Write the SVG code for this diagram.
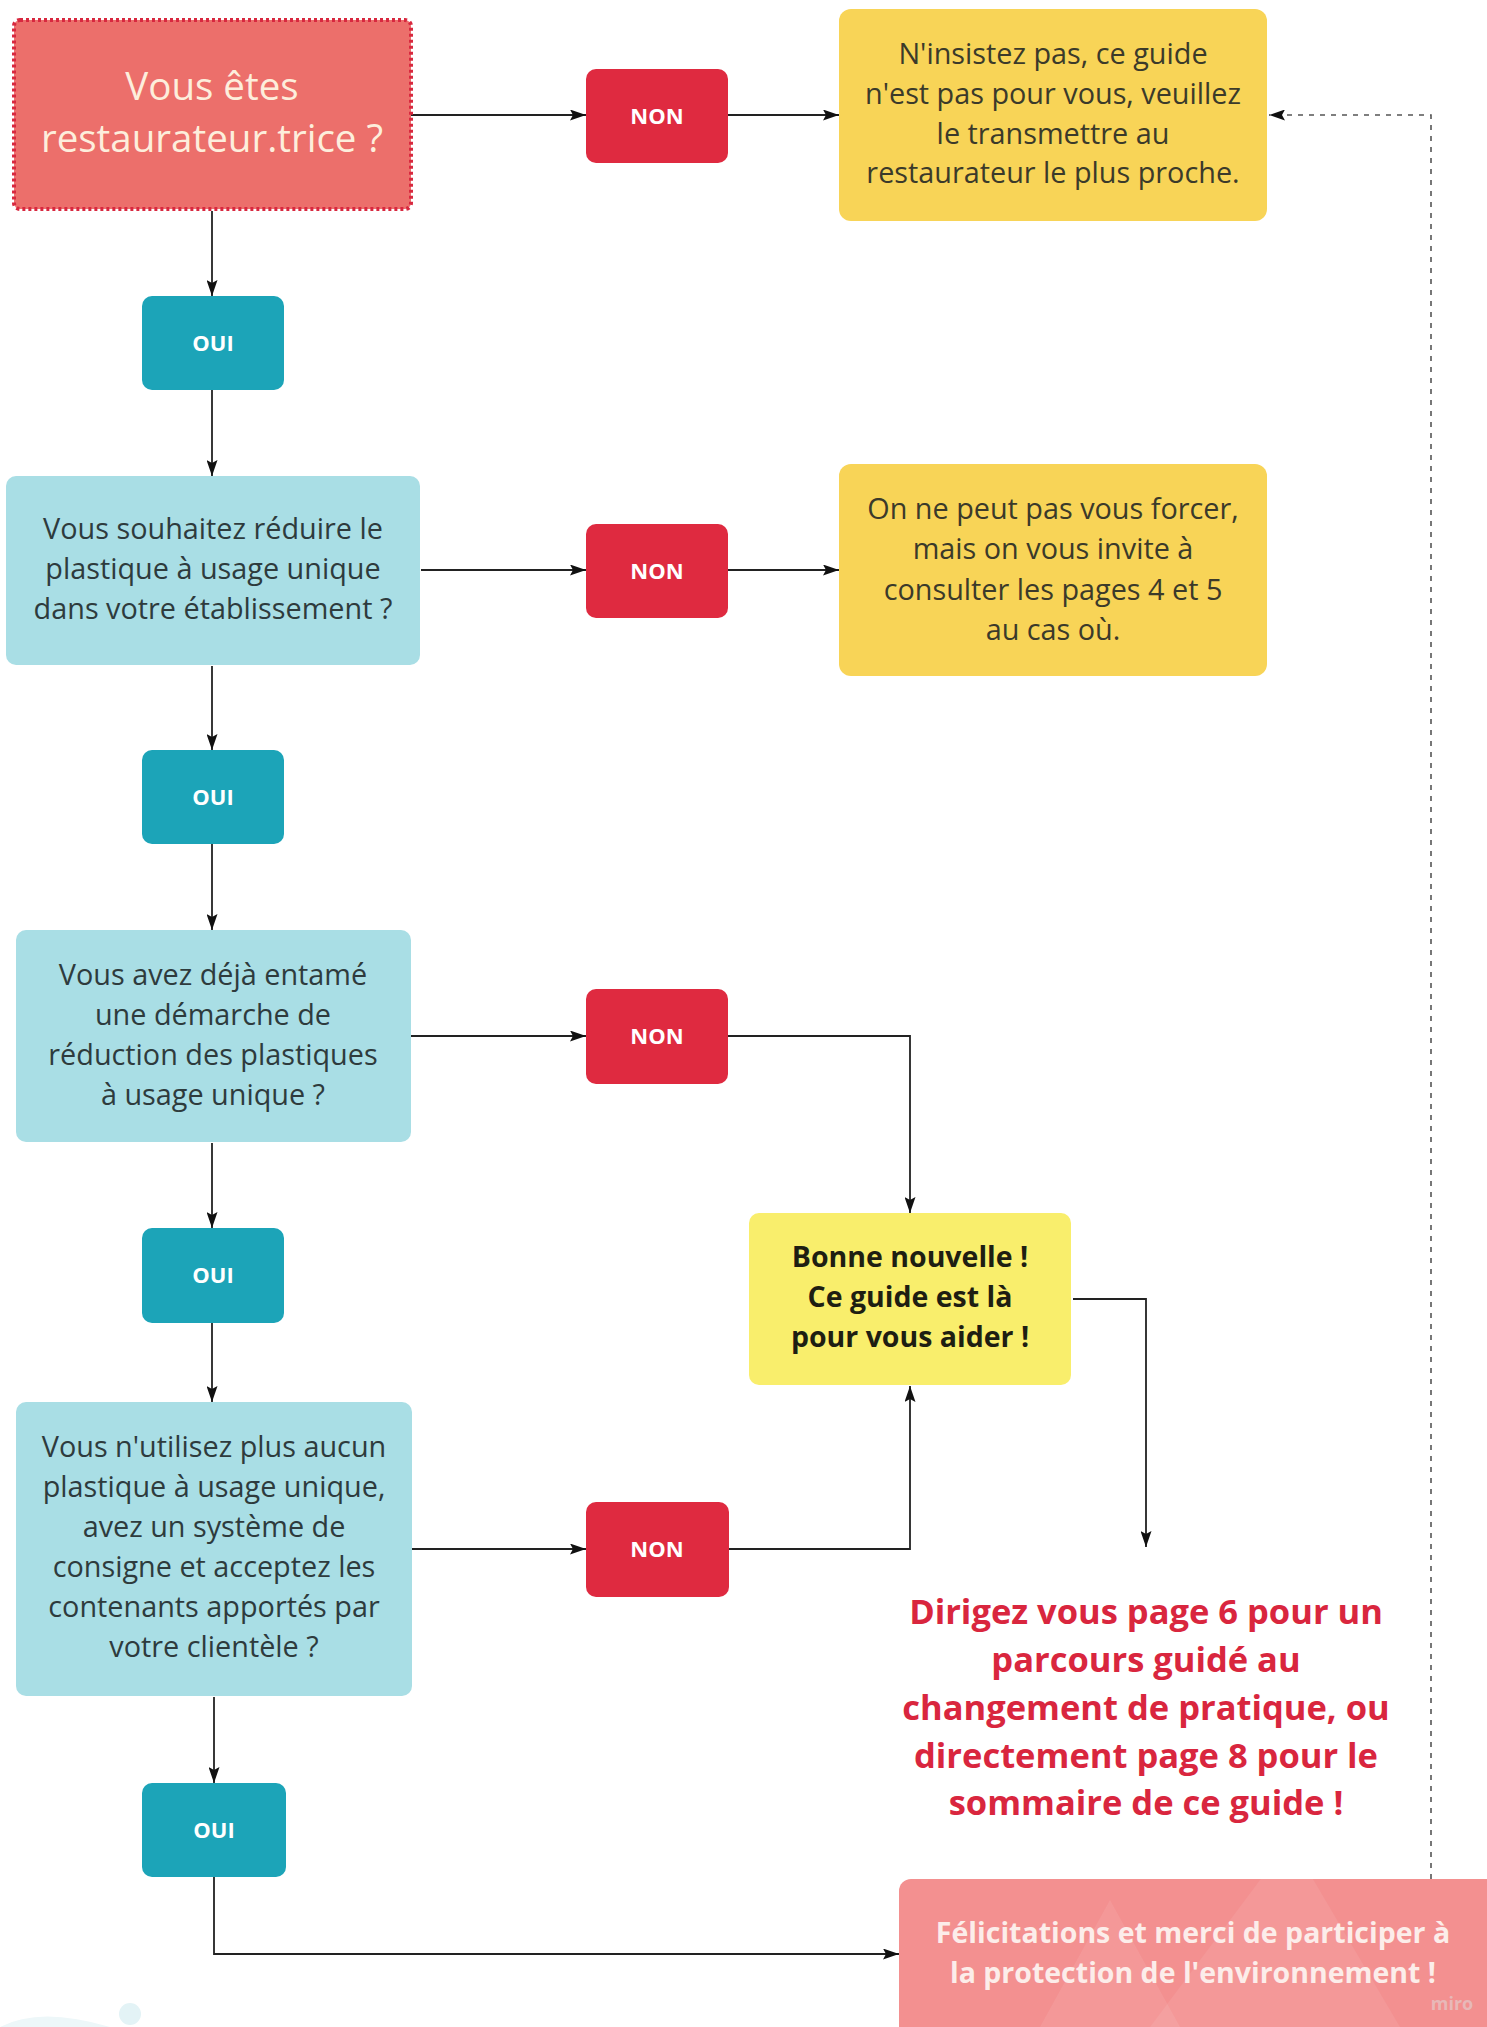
<svg xmlns="http://www.w3.org/2000/svg" width="1487" height="2027" viewBox="0 0 1487 2027">
<defs>
<marker id="ah" viewBox="0 0 16 11" refX="16" refY="5.5" markerWidth="16" markerHeight="11" markerUnits="userSpaceOnUse" orient="auto">
<path d="M0,0 L16,5.5 L0,11 L3,5.5 z" fill="#111"/>
</marker>
<style>
.conn{fill:none;stroke:#222;stroke-width:1.8}
.dash{fill:none;stroke:#555;stroke-width:1.6;stroke-dasharray:5 6}
.non rect{fill:#DF2A40}
.oui rect{fill:#1CA4B8}
.btn{font-family:"Open Sans","Noto Sans","Liberation Sans",sans-serif;font-weight:700;font-size:22px;fill:#fff;text-anchor:middle}
.q rect{fill:#A9DEE5}
.qt{font-family:"Open Sans","Noto Sans","Liberation Sans",sans-serif;font-size:28.8px;fill:#2E3B3D;text-anchor:middle}
.y rect{fill:#F8D457}
.yt{font-family:"Open Sans","Noto Sans","Liberation Sans",sans-serif;font-size:28.8px;fill:#3B3A2A;text-anchor:middle}
</style>
</defs>
<rect width="1487" height="2027" fill="#fff"/>
<circle cx="130" cy="2014" r="11" fill="#E3F3F6"/>
<path d="M0,2027 Q40,2006 110,2027" fill="#EDF7F9"/>

<g id="connectors">
<line class="conn" x1="411" y1="115" x2="586" y2="115" marker-end="url(#ah)"/>
<line class="conn" x1="728" y1="115" x2="839" y2="115" marker-end="url(#ah)"/>
<line class="conn" x1="212" y1="211" x2="212" y2="296" marker-end="url(#ah)"/>
<line class="conn" x1="212" y1="390" x2="212" y2="476" marker-end="url(#ah)"/>
<line class="conn" x1="421" y1="570" x2="586" y2="570" marker-end="url(#ah)"/>
<line class="conn" x1="728" y1="570" x2="839" y2="570" marker-end="url(#ah)"/>
<line class="conn" x1="212" y1="666" x2="212" y2="750" marker-end="url(#ah)"/>
<line class="conn" x1="212" y1="844" x2="212" y2="930" marker-end="url(#ah)"/>
<line class="conn" x1="411" y1="1036" x2="586" y2="1036" marker-end="url(#ah)"/>
<polyline class="conn" points="728,1036 910,1036 910,1213" marker-end="url(#ah)"/>
<line class="conn" x1="212" y1="1143" x2="212" y2="1228" marker-end="url(#ah)"/>
<line class="conn" x1="212" y1="1323" x2="212" y2="1402" marker-end="url(#ah)"/>
<line class="conn" x1="412" y1="1549" x2="586" y2="1549" marker-end="url(#ah)"/>
<polyline class="conn" points="729,1549 910,1549 910,1386" marker-end="url(#ah)"/>
<polyline class="conn" points="1073,1299 1146,1299 1146,1547" marker-end="url(#ah)"/>
<line class="conn" x1="214" y1="1697" x2="214" y2="1783" marker-end="url(#ah)"/>
<polyline class="conn" points="214,1877 214,1954 899,1954" marker-end="url(#ah)"/>
<polyline class="dash" points="1431,1879 1431,115 1269,115" marker-end="url(#ah)"/>
</g>

<g id="start">
<rect x="14" y="20" width="397" height="189" rx="6" fill="#EC6F6B" stroke="#D8283F" stroke-width="4" stroke-dasharray="3 3"/>
<text font-family="'Open Sans','Noto Sans','Liberation Sans',sans-serif" font-size="38.5" fill="#FDEEDC" text-anchor="middle"><tspan x="212" y="100">Vous êtes</tspan><tspan x="212" y="152">restaurateur.trice ?</tspan></text>
</g>

<g id="non1" class="non"><rect x="586" y="69" width="142" height="94" rx="10"/><text class="btn" x="657" y="124">NON</text></g>
<g id="msg1" class="y"><rect x="839" y="9" width="428" height="212" rx="12"/>
<text class="yt"><tspan x="1053" y="64">N'insistez pas, ce guide</tspan><tspan x="1053" y="104">n'est pas pour vous, veuillez</tspan><tspan x="1053" y="144">le transmettre au</tspan><tspan x="1053" y="183">restaurateur le plus proche.</tspan></text></g>

<g id="oui1" class="oui"><rect x="142" y="296" width="142" height="94" rx="10"/><text class="btn" x="213" y="351">OUI</text></g>

<g id="q2" class="q"><rect x="6" y="476" width="414" height="189" rx="10"/>
<text class="qt"><tspan x="213" y="539">Vous souhaitez réduire le</tspan><tspan x="213" y="579">plastique à usage unique</tspan><tspan x="213" y="619">dans votre établissement ?</tspan></text></g>

<g id="non2" class="non"><rect x="586" y="524" width="142" height="94" rx="10"/><text class="btn" x="657" y="579">NON</text></g>
<g id="msg2" class="y"><rect x="839" y="464" width="428" height="212" rx="12"/>
<text class="yt"><tspan x="1053" y="519">On ne peut pas vous forcer,</tspan><tspan x="1053" y="559">mais on vous invite à</tspan><tspan x="1053" y="600">consulter les pages 4 et 5</tspan><tspan x="1053" y="640">au cas où.</tspan></text></g>

<g id="oui2" class="oui"><rect x="142" y="750" width="142" height="94" rx="10"/><text class="btn" x="213" y="805">OUI</text></g>

<g id="q3" class="q"><rect x="16" y="930" width="395" height="212" rx="10"/>
<text class="qt"><tspan x="213" y="985">Vous avez déjà entamé</tspan><tspan x="213" y="1025">une démarche de</tspan><tspan x="213" y="1065">réduction des plastiques</tspan><tspan x="213" y="1105">à usage unique ?</tspan></text></g>

<g id="non3" class="non"><rect x="586" y="989" width="142" height="95" rx="10"/><text class="btn" x="657" y="1044">NON</text></g>

<g id="bonne"><rect x="749" y="1213" width="322" height="172" rx="10" fill="#F9EE6C"/>
<text font-family="'Open Sans','Noto Sans','Liberation Sans',sans-serif" font-weight="700" font-size="28.5" fill="#1E1E12" text-anchor="middle"><tspan x="910" y="1267">Bonne nouvelle !</tspan><tspan x="910" y="1307">Ce guide est là</tspan><tspan x="910" y="1347">pour vous aider !</tspan></text></g>

<g id="oui3" class="oui"><rect x="142" y="1228" width="142" height="95" rx="10"/><text class="btn" x="213" y="1283">OUI</text></g>

<g id="q4" class="q"><rect x="16" y="1402" width="396" height="294" rx="10"/>
<text class="qt"><tspan x="214" y="1457">Vous n'utilisez plus aucun</tspan><tspan x="214" y="1497">plastique à usage unique,</tspan><tspan x="214" y="1537">avez un système de</tspan><tspan x="214" y="1577">consigne et acceptez les</tspan><tspan x="214" y="1617">contenants apportés par</tspan><tspan x="214" y="1657">votre clientèle ?</tspan></text></g>

<g id="non4" class="non"><rect x="586" y="1502" width="143" height="95" rx="10"/><text class="btn" x="657" y="1557">NON</text></g>

<g id="dirigez">
<text font-family="'Open Sans','Noto Sans','Liberation Sans',sans-serif" font-weight="700" font-size="34.5" fill="#D9263E" text-anchor="middle"><tspan x="1146" y="1624">Dirigez vous page 6 pour un</tspan><tspan x="1146" y="1672">parcours guidé au</tspan><tspan x="1146" y="1720">changement de pratique, ou</tspan><tspan x="1146" y="1768">directement page 8 pour le</tspan><tspan x="1146" y="1815">sommaire de ce guide !</tspan></text></g>

<g id="oui4" class="oui"><rect x="142" y="1783" width="144" height="94" rx="10"/><text class="btn" x="214" y="1838">OUI</text></g>

<g id="felicitations">
<rect x="899" y="1879" width="600" height="170" rx="12" fill="#F39090"/>
<polygon points="1040,2027 1110,1900 1180,2027" fill="#fff" opacity="0.08"/>
<polygon points="1150,2027 1290,1840 1400,2027" fill="#fff" opacity="0.08"/>
<text font-family="'Open Sans','Noto Sans','Liberation Sans',sans-serif" font-weight="700" font-size="28.5" fill="#FCEDEA" text-anchor="middle"><tspan x="1193" y="1943">Félicitations et merci de participer à</tspan><tspan x="1193" y="1983">la protection de l'environnement !</tspan></text>
<text x="1452" y="2010" font-family="'Open Sans','Noto Sans','Liberation Sans',sans-serif" font-weight="700" font-size="18" fill="#E8B8B8" text-anchor="middle">miro</text>
</g>
</svg>
